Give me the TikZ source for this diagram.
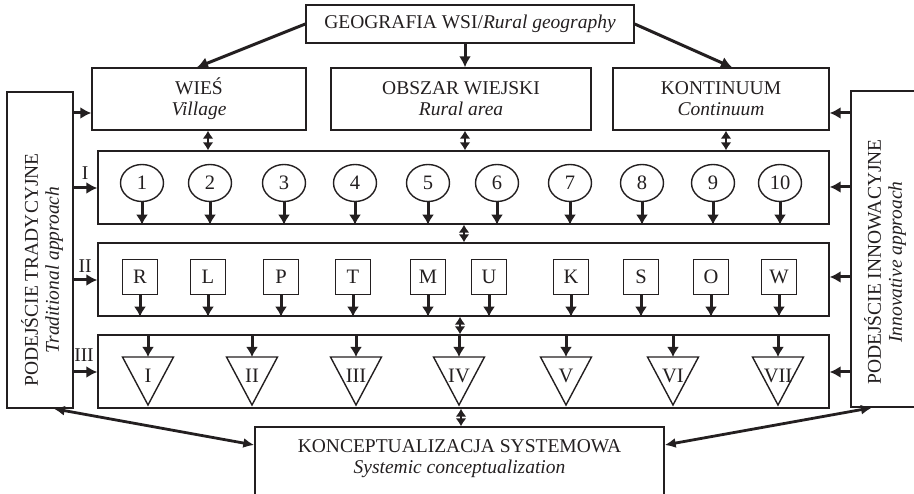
\documentclass[tikz,border=0pt]{standalone}
\usepackage{fontspec}
\setmainfont{Liberation Serif}
\usetikzlibrary{arrows.meta,shapes.geometric}
\definecolor{ink}{RGB}{35,31,32}
\begin{document}
\begin{tikzpicture}[x=1pt,y=-1pt,
  every node/.style={font=\fontsize{19.5}{21}\selectfont,text=ink},
  box/.style={draw=ink,line width=1.4pt,inner sep=0pt,rectangle},
  txt/.style={inner sep=0pt,align=center},
  circ/.style={draw=ink,line width=1.4pt,ellipse,inner sep=0pt,minimum width=43pt,minimum height=37pt,font=\fontsize{20.5}{22}\selectfont},
  sq/.style={draw=ink,line width=1.4pt,rectangle,inner sep=0pt,minimum width=35pt,minimum height=35pt,font=\fontsize{20.5}{22}\selectfont},
  arr/.style={draw=ink,line width=3pt,-{Latex[length=11pt,width=12pt]}},
  sarr/.style={draw=ink,line width=3pt,-{Latex[length=10pt,width=12pt]}},
  darr/.style={draw=ink,line width=2.6pt,{Latex[length=8pt,width=11pt]}-{Latex[length=8pt,width=11pt]}},
  larr/.style={draw=ink,line width=2.8pt,{Latex[length=11pt,width=10pt]}-{Latex[length=11pt,width=10pt]}}
]
\useasboundingbox (0,0) rectangle (914,494);
\clip (0,0) rectangle (914,494);

% top boxes
\node[box,minimum width=328pt,minimum height=38pt] (GEO) at (470,24) {GEOGRAFIA WSI/\textit{Rural geography}};
\node[box,txt,minimum width=214pt,minimum height=62pt] (WIES) at (199,99) {WIEŚ\\\textit{Village}};
\node[box,txt,minimum width=260pt,minimum height=62pt] (OBS) at (461,99) {OBSZAR WIEJSKI\\\textit{Rural area}};
\node[box,txt,minimum width=216pt,minimum height=62pt] (KONT) at (721,99) {KONTINUUM\\\textit{Continuum}};

% side boxes
\node[box,minimum width=66pt,minimum height=316pt] (L) at (40,250) {};
\node[txt,rotate=90] (Ltxt) at (42,270) {PODEJŚCIE TRADYCYJNE\\\textit{Traditional approach}};
\node[box,minimum width=80pt,minimum height=316pt] (R) at (891,249) {};
\node[txt,rotate=90] (Rtxt) at (885,262) {PODEJŚCIE INNOWACYJNE\\\textit{Innovative approach}};

% rows
\node[box,minimum width=731pt,minimum height=73pt] (RI) at (463.5,187.5) {};
\node[box,minimum width=731pt,minimum height=73pt] (RII) at (463.5,279.5) {};
\node[box,minimum width=731pt,minimum height=73pt] (RIII) at (463.5,371.5) {};

% bottom box
\node[box,minimum width=409pt,minimum height=90pt] (BOT) at (459.5,472) {};
\node[txt] (BOTtxt) at (459.5,459) {KONCEPTUALIZACJA SYSTEMOWA\\\textit{Systemic conceptualization}};

% row labels
\node[inner sep=0pt] (lI) at (85,173) {I};
\node[inner sep=0pt] (lII) at (85,266) {II};
\node[inner sep=0pt] (lIII) at (84,355) {III};

% circles
\foreach \x [count=\i] in {142,210,284,355,428,497,570,642,713,780} {
  \node[circ] (c\i) at (\x,183) {\i};
  \draw[sarr] (c\i.south) -- (c\i.south |- RI.south);
}
% squares
\foreach \x/\t [count=\i] in {140/R,208/L,281/P,353/T,428/M,489/U,571/K,641/S,711/O,779/W} {
  \node[sq] (s\i) at (\x,277) {\t};
  \draw[sarr] (s\i.south) -- (s\i.south |- RII.south);
}
% triangles
\foreach \x/\t [count=\i] in {148/I,252/II,356/III,459/IV,566/V,673/VI,778/VII} {
  \draw[draw=ink,line width=1.4pt] (\x-25.5,357) -- (\x+25.5,357) -- (\x,405) -- cycle;
  \coordinate (t\i) at (\x,357);
  \node[inner sep=0pt,font=\fontsize{20.5}{22}\selectfont] (tl\i) at (\x,376) {\t};
  \draw[sarr] (t\i |- RIII.north) -- (t\i);
}

% arrows from top
\draw[arr] (GEO.west) -- ([xshift=-2pt]WIES.north);
\draw[arr] ([xshift=-5pt]GEO.south) -- ([xshift=-5pt]GEO.south |- OBS.north);
\draw[arr] (GEO.east) -- ([xshift=11pt]KONT.north);

% double arrows between levels
\draw[darr] (208,0 |- WIES.south) -- (208,0 |- RI.north);
\draw[darr] (465,0 |- OBS.south) -- (465,0 |- RI.north);
\draw[darr] (726,0 |- KONT.south) -- (726,0 |- RI.north);
\draw[darr] (464,0 |- RI.south) -- (464,0 |- RII.north);
\draw[darr] (460,0 |- RII.south) -- (460,0 |- RIII.north);
\draw[darr] (461,0 |- RIII.south) -- (461,0 |- BOT.north);

% side arrows
\draw[arr] (L.east |- 0,113) -- (WIES.west |- 0,113);
\draw[arr] (L.east |- 0,188) -- (RI.west |- 0,188);
\draw[arr] (L.east |- 0,280) -- (RII.west |- 0,280);
\draw[arr] (L.east |- 0,372) -- (RIII.west |- 0,372);
\draw[arr] (R.west |- 0,113) -- (KONT.east |- 0,113);
\draw[arr] (R.west |- 0,187) -- (RI.east |- 0,187);
\draw[arr] (R.west |- 0,277) -- (RII.east |- 0,277);
\draw[arr] (R.west |- 0,372) -- (RIII.east |- 0,372);

% bottom long arrows
\draw[larr] ([xshift=-20pt]L.south east) -- (BOT.west |- 0,445);
\draw[larr] (BOT.east |- 0,445) -- (872,0 |- R.south);
\end{tikzpicture}
\end{document}
